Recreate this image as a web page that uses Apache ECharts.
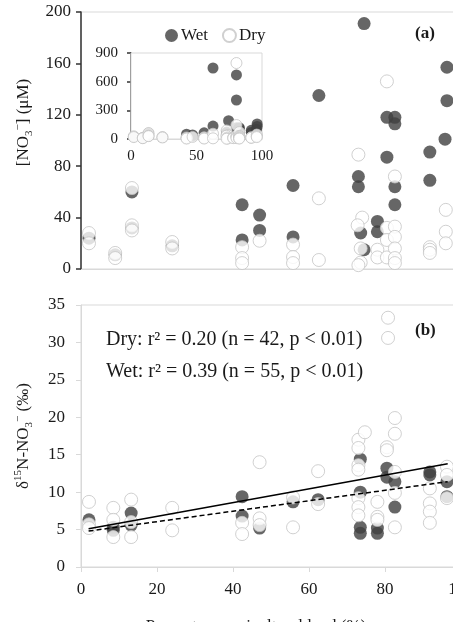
<!DOCTYPE html>
<html>
<head>
<meta charset="utf-8">
<style>
  html, body { margin: 0; padding: 0; background: #fff; }
  #chart { width: 453px; height: 622px; }
</style>
<script src="https://cdn.jsdelivr.net/npm/echarts@6/dist/echarts.min.js"></script>
</head>
<body>
<div id="chart"></div>
<script>
// panel (a): [NO3-] vs % agricultural land
const wetConc = [
  [2.1, 24], [9, 11], [13.4, 60], [13.4, 32], [24, 18],
  [42.4, 50], [42.4, 22.6], [47, 42], [47, 30], [55.8, 65], [55.8, 25],
  [62.6, 135], [62.6, 743],
  [73, 72], [73, 64], [73.6, 28], [74.5, 15], [74.5, 191],
  [78, 37], [78, 29],
  [80.5, 118], [80.5, 87], [80.5, 670], [80.5, 408],
  [82.6, 118], [82.6, 113], [82.6, 64], [82.6, 50],
  [91.8, 91], [91.8, 69], [95.8, 101], [96.3, 157], [96.3, 131]
]
const dryConc = [
  [2.1, 28], [2.1, 20], [9, 12.5], [9, 8.5], [13.4, 63], [13.4, 34], [13.4, 30],
  [24, 21], [24, 16], [42.4, 17], [42.4, 8.5], [42.4, 4.6], [47, 22],
  [55.8, 19], [55.8, 9.3], [55.8, 4.6], [62.6, 55], [62.6, 7],
  [73, 89], [74, 40], [72.8, 34], [73.6, 16], [73.6, 5], [73, 3],
  [78, 15], [78, 9], [80.5, 146], [80.5, 32], [80.5, 22.6], [80.5, 9], [80.5, 795],
  [82.6, 72], [82.6, 33], [82.6, 25], [82.6, 16], [82.6, 8.5], [82.6, 4.6],
  [91.8, 17], [91.8, 15], [91.8, 12.5], [96, 46], [96, 29], [96, 20]
]
// panel (b): d15N-NO3- vs % agricultural land
const wetIso = [
  [2.1, 6.3], [8.5, 4.9], [8.5, 5.3], [13.2, 7.2], [13.2, 5.6],
  [42.4, 9.4], [42.4, 6.8], [47, 5.2], [55.8, 8.7], [62.4, 9.0],
  [73.5, 14.4], [73.5, 10.0], [73.5, 5.3], [73.5, 4.5], [78, 5.2], [78, 4.5],
  [80.5, 13.2], [80.5, 12.0], [82.6, 11.4], [82.6, 8.0],
  [91.8, 12.7], [91.8, 12.3], [96.3, 11.4], [96.3, 9.4]
]
const dryIso = [
  [2.1, 8.7], [2.1, 5.7], [2.1, 5.2], [8.5, 7.9], [8.5, 6.3], [8.5, 4.0],
  [13.2, 9.0], [13.2, 6.0], [13.2, 4.0], [24, 7.9], [24, 4.9],
  [42.4, 5.9], [42.4, 4.4], [47, 14.0], [47, 6.5], [47, 5.6],
  [55.8, 9.3], [55.8, 5.3], [62.4, 12.8], [62.4, 8.4],
  [73, 17.0], [73, 15.9], [73, 13.6], [73, 13.0], [73, 9.2], [73, 8.0], [73, 6.9], [74.7, 18.0],
  [78, 8.7], [78, 6.7], [78, 6.3], [80.8, 33.3], [80.8, 30.6], [80.5, 16.0], [80.5, 15.6],
  [82.6, 19.9], [82.6, 17.8], [82.6, 12.7], [82.6, 9.9], [82.6, 5.3],
  [91.8, 10.5], [91.8, 8.5], [91.8, 7.4], [91.8, 5.9], [96.3, 13.4], [96.3, 12.3], [96.3, 9.2]
]
// fitted regression lines (end points)
const wetFit = [[2, 5.1], [96.5, 13.8]]
const dryFit = [[2, 4.8], [96.5, 11.4]]
const xTicks = { min: 0, max: 100, interval: 20 }

const serif = 'Liberation Serif'
const ink = '#1a1a1a'
const pale = '#d9d9d9'
const darkDot = { color: '#404040' }
const openDot = { color: '#fff', borderColor: '#c4c4c4', borderWidth: 1 }

// small raised / lowered pieces for chemical notation
const titleRich = {
  t: { fontFamily: serif, fontSize: 17, color: ink, lineHeight: 22 },
  sup: { fontFamily: serif, fontSize: 11, color: ink, lineHeight: 11, verticalAlign: 'top' },
  sub: { fontFamily: serif, fontSize: 11, color: ink, lineHeight: 11, verticalAlign: 'bottom' }
}

const chart = echarts.init(document.getElementById('chart'))

function dots(name, data, xi, style, size) {
  return {
    name: name,
    type: 'scatter',
    xAxisIndex: xi,
    yAxisIndex: xi,
    data: data,
    symbolSize: size,
    itemStyle: style,
    emphasis: { disabled: true }
  }
}

const option = {
  animation: false,
  backgroundColor: '#fff',
  textStyle: { fontFamily: serif },
  legend: {
    data: ['Wet', 'Dry'],
    left: 160,
    top: 22,
    icon: 'circle',
    itemWidth: 13,
    itemHeight: 13,
    itemGap: 14,
    textStyle: { fontFamily: serif, fontSize: 17, color: ink, padding: [0, 0, 0, -2] }
  },
  grid: [
    { left: 81, top: 12, width: 380, height: 257, show: true, borderColor: pale, borderWidth: 1, outerBoundsMode: 'none' },
    { left: 81, top: 305, width: 380, height: 262, show: true, borderColor: pale, borderWidth: 1, outerBoundsMode: 'none' },
    { left: 131, top: 53, width: 131, height: 86, show: true, borderColor: pale, borderWidth: 1, z: 5, outerBoundsMode: 'none' }
  ],
  xAxis: [
    {
      gridIndex: 0, type: 'value', min: xTicks.min, max: xTicks.max, interval: xTicks.interval,
      axisLine: { lineStyle: { color: pale } }, axisTick: { show: false },
      axisLabel: { show: false }, splitLine: { show: false }
    },
    {
      gridIndex: 1, type: 'value', min: xTicks.min, max: xTicks.max, interval: xTicks.interval,
      axisLine: { lineStyle: { color: pale } },
      axisTick: { length: 5, lineStyle: { color: pale } },
      axisLabel: { fontFamily: serif, fontSize: 17, color: ink, margin: 14 },
      splitLine: { show: false },
      name: 'Percentage agricultural land (%)',
      nameLocation: 'middle',
      nameGap: 51,
      nameTextStyle: { fontFamily: serif, fontSize: 17, color: ink, padding: [0, 30, 0, 0] }
    },
    {
      gridIndex: 2, type: 'value', min: 0, max: 100, interval: 50,
      axisLine: { lineStyle: { color: pale } }, axisTick: { show: false },
      axisLabel: { fontFamily: serif, fontSize: 15, color: ink, margin: 10 },
      splitLine: { show: false }
    }
  ],
  yAxis: [
    {
      gridIndex: 0, type: 'value', min: 0, max: 200, interval: 40,
      axisLine: { show: true, lineStyle: { color: '#333', width: 1.5 } },
      axisTick: { show: true, length: 5, lineStyle: { color: '#333', width: 1.5 } },
      axisLabel: { fontFamily: serif, fontSize: 17, color: ink, margin: 10 },
      splitLine: { show: false },
      name: '{t|[NO}{sub|3}{sup|\u2212}{t|] (\u03BCM)}',
      nameLocation: 'middle',
      nameGap: 45,
      nameTextStyle: { fontFamily: serif, fontSize: 17, color: ink, padding: [0, 0, 0, 36], rich: titleRich }
    },
    {
      gridIndex: 1, type: 'value', min: 0, max: 35, interval: 5,
      axisLine: { show: true, lineStyle: { color: pale } },
      axisTick: { show: true, length: 5, lineStyle: { color: pale } },
      axisLabel: { fontFamily: serif, fontSize: 17, color: ink, margin: 16 },
      splitLine: { show: false },
      name: '{t|\u03B4}{sup|15}{t|N-NO}{sub|3}{sup|\u2212}{t| (\u2030)}',
      nameLocation: 'middle',
      nameGap: 46,
      nameTextStyle: { fontFamily: serif, fontSize: 17, color: ink, rich: titleRich }
    },
    {
      gridIndex: 2, type: 'value', min: 0, max: 900, interval: 300,
      axisLine: { show: true, lineStyle: { color: '#333', width: 1.5 } },
      axisTick: { show: true, length: 4, lineStyle: { color: '#333', width: 1.5 } },
      axisLabel: { fontFamily: serif, fontSize: 15, color: ink, margin: 13 },
      splitLine: { show: false }
    }
  ],
  series: [
    dots('Wet', wetConc, 0, darkDot, 13),
    dots('Dry', dryConc, 0, openDot, 13),
    dots('Wet', wetIso, 1, darkDot, 13),
    dots('Dry', dryIso, 1, openDot, 13),
    Object.assign(dots('Wet', wetConc, 2, darkDot, 11), { z: 6 }),
    Object.assign(dots('Dry', dryConc, 2, openDot, 11), { z: 6 }),
    {
      name: 'Wet fit', type: 'line', xAxisIndex: 1, yAxisIndex: 1, data: wetFit,
      symbol: 'none', z: 4, lineStyle: { color: '#000', width: 1.5, type: 'solid' }
    },
    {
      name: 'Dry fit', type: 'line', xAxisIndex: 1, yAxisIndex: 1, data: dryFit,
      symbol: 'none', z: 4, lineStyle: { color: '#000', width: 1.5, type: [5, 3] }
    }
  ],
  graphic: [
    { type: 'rect', left: 131, top: 53, shape: { width: 131, height: 86 }, style: { fill: '#fff' }, z: 4, silent: true },
    { type: 'text', left: 415, top: 25, style: { text: '(a)', font: 'bold 17px ' + serif, fill: ink } },
    { type: 'text', left: 415, top: 322, style: { text: '(b)', font: 'bold 17px ' + serif, fill: ink } },
    { type: 'text', left: 106, top: 330, style: { text: 'Dry: r\u00B2 = 0.20 (n = 42, p < 0.01)', font: '20px ' + serif, fill: ink } },
    { type: 'text', left: 106, top: 362, style: { text: 'Wet: r\u00B2 = 0.39 (n = 55, p < 0.01)', font: '20px ' + serif, fill: ink } }
  ]
}

chart.setOption(option)
</script>
</body>
</html>
